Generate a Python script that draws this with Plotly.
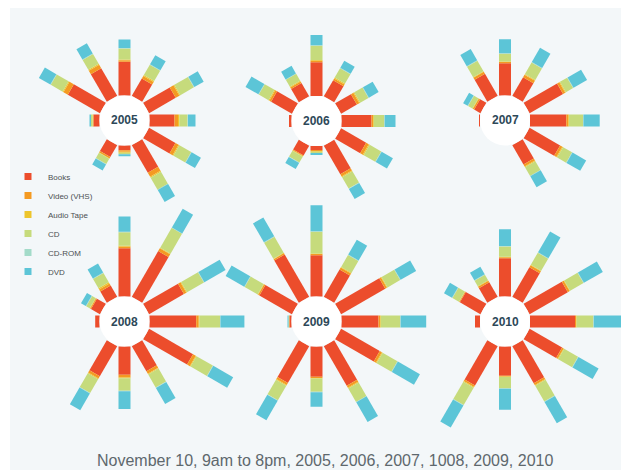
import plotly.graph_objects as go

YEARS = ["2005", "2006", "2007", "2008", "2009", "2010"]
HOURS = ["9am", "10am", "11am", "12pm", "1pm", "2pm", "3pm", "4pm", "5pm", "6pm", "7pm", "8pm"]
CATEGORIES = ["Books", "Video (VHS)", "Audio Tape", "CD", "CD-ROM", "DVD"]
COLORS = ["#EC4D2C", "#F49A22", "#EDC52C", "#C6DB7C", "#A3DBC9", "#5CC5D7"]

# values per year (rows) and hour 9am..8pm (columns)
books = [
    [6, 37, 32, 33.7, 20, 30.7, 25, 30.4, 32, 4.7, 13.8, 0],
    [2.5, 24, 15.4, 33.7, 18.7, 18.2, 30, 28.9, 33, 4, 11.3, 0],
    [1, 7.2, 25.4, 32.3, 21.5, 38.6, 36.3, 35.2, 22.3, 0, 0, 0],
    [4.3, 10.3, 13, 48.3, 52.8, 40.2, 46.7, 50.7, 29.1, 28.3, 34.7, 0],
    [2, 37.5, 49, 41.3, 31.5, 50.9, 37, 44.6, 45.8, 30.3, 42.6, 0],
    [5, 23.7, 16.8, 38.3, 34.2, 44.1, 45, 37.5, 42.8, 29.3, 45.3, 0],
]
video_vhs = [
    [0.5, 5, 4, 1.5, 3, 4.3, 3.5, 3.6, 4.6, 1.6, 1.5, 0],
    [0, 2, 1.8, 1.5, 2, 2.8, 1.5, 3, 2.5, 1, 1, 0],
    [0, 1.5, 2.5, 1.2, 3, 2.5, 2, 2.6, 2.3, 0, 0, 0],
    [0, 1, 2.5, 1.7, 3.2, 2.8, 2.5, 3.2, 2.9, 2.6, 2.6, 0],
    [0.5, 1.5, 1.5, 1.2, 2.3, 2, 1.6, 2.5, 2.3, 1.3, 2.3, 0],
    [0, 0.8, 1.9, 1, 2.3, 2.2, 1.2, 1.8, 2.2, 0.8, 2, 0],
]
audio_tape = [
    [0.5, 1, 1, 0.8, 1, 1, 1.5, 1, 1, 1, 0.5, 0],
    [0, 1, 0.8, 0.8, 1, 1, 0.8, 1.1, 1, 0.7, 0.5, 0],
    [0, 0.5, 0.5, 0.5, 0.8, 0.8, 0.7, 0.9, 0.8, 0, 0, 0],
    [0, 0.5, 1.3, 0.7, 0.8, 0.8, 0.8, 0.8, 0.8, 0.8, 0.8, 0],
    [0, 0.5, 0.5, 0.5, 0.8, 0.7, 0.7, 0.8, 0.8, 0.4, 0.8, 0],
    [0, 0.3, 0.5, 0.4, 0.5, 0.5, 0.5, 0.6, 0.8, 0.4, 0.7, 0],
]
cd = [
    [1.5, 13.7, 11.4, 11, 12, 15.7, 8, 13.6, 13.8, 1.4, 6, 0],
    [0, 11.2, 8, 14.3, 10.8, 9.6, 10.4, 13.3, 13.1, 1.3, 6.8, 0],
    [0, 5, 12.2, 7.7, 13.2, 8.3, 14, 10.3, 10.1, 0, 0, 0],
    [0, 4, 10.7, 13.6, 22.9, 19.5, 20.5, 18.9, 14.9, 12.5, 16, 0],
    [0.5, 15, 18.4, 21.7, 13.8, 14.6, 19.4, 17.1, 15.5, 13.3, 16.9, 0],
    [0, 7.5, 6.3, 10.3, 14, 15.4, 16.6, 16, 18.1, 11.2, 20, 0],
]
cd_rom = [
    [0, 0.5, 0.5, 0.5, 0.5, 0.5, 0.5, 0.5, 0.5, 0, 0.5, 0],
    [0, 0.5, 0.5, 0.5, 0.5, 0.5, 0.5, 0.5, 0.5, 0, 0.5, 0],
    [0, 0.5, 0.5, 0.5, 0.5, 0.5, 0.5, 0.5, 0.5, 0, 0, 0],
    [0, 0.5, 0.5, 0.5, 0.5, 0.5, 0.5, 0.5, 0.5, 0.5, 0.5, 0],
    [0, 0.5, 0.5, 0.5, 0.5, 0.5, 0.5, 0.5, 0.5, 0.5, 0.5, 0],
    [0, 0.5, 0.5, 0.5, 0.5, 0.5, 0.5, 0.5, 0.5, 0.5, 0.5, 0],
]
dvd = [
    [1.5, 13.2, 11.8, 8.5, 10.5, 10.8, 7.5, 10.7, 13.8, 2, 6.9, 0],
    [0, 14.8, 8.8, 10.2, 8, 11.2, 10.8, 13, 11.6, 2, 6.9, 0],
    [0, 5.2, 12.9, 14.1, 16.5, 15.6, 16.2, 15.8, 12.5, 0, 0, 0],
    [0, 5.5, 10.4, 15.2, 21.6, 24.5, 23.9, 22.9, 18.5, 17.8, 19.3, 0],
    [1, 21.5, 21.8, 26.1, 17.1, 17.9, 25.5, 25.5, 22.7, 14.5, 22.5, 0],
    [0, 9.2, 8.7, 16.8, 24.1, 21.8, 31.2, 23.2, 24.6, 21.1, 25.5, 0],
]
SERIES = [books, video_vhs, audio_tape, cd, cd_rom, dvd]

CAPTION = "November 10, 9am to 8pm, 2005, 2006, 2007, 1008, 2009, 2010"

# page body has an 8px margin: figure coords = page coords - 8
OFF = 8
W, H = 629 - OFF, 470 - OFF
CENTERS = [(124.5, 120.5), (316.5, 121), (505, 120.5),
           (124.5, 321.5), (316.5, 321.5), (505, 321.5)]  # page px
HOLE_PX = 25    # inner hole radius in px
R_CAP = 140
FONT = "Liberation Sans, Arial, sans-serif"

# each wheel is drawn as two half-wheel polar subplots so long spokes are not clipped
RIGHT_SECTOR = [-106, 106]
RIGHT_XMIN = -0.27564   # cos(254 deg): left extent of the right sector bbox
LEFT_SECTOR = [90, 270]
PIECES = [
    ("right", RIGHT_SECTOR, ["12pm", "1pm", "2pm", "3pm", "4pm", "5pm", "6pm"]),
    ("left", LEFT_SECTOR, ["7pm", "8pm", "9am", "10am", "11am"]),
]


def px(x, y):
    """figure px -> paper fraction"""
    return x / W, 1 - y / H


fig = go.Figure()
layout = dict(
    width=W, height=H, margin=dict(l=0, r=0, t=0, b=0),
    paper_bgcolor="#FFFFFF",
    showlegend=True,
    shapes=[dict(type="rect", xref="paper", yref="paper", x0=2 / W, x1=1.02,
                 y0=-0.02, y1=1, fillcolor="#F3F7F9", line=dict(width=0), layer="below")],
    annotations=[],
)

n = 0
for k, year in enumerate(YEARS):
    cx, cy = CENTERS[k][0] - OFF, CENTERS[k][1] - OFF
    for side, sector, hours in PIECES:
        n += 1
        pid = "polar" if n == 1 else f"polar{n}"
        if side == "right":
            R = min(W - cx, cy, H - cy, cx / -RIGHT_XMIN, R_CAP) - 0.5
            xd = [cx + RIGHT_XMIN * R, cx + R]
        else:
            R = min(cx, cy, H - cy, R_CAP) - 0.5
            xd = [cx - R, cx]
        layout[pid] = dict(
            domain=dict(x=[xd[0] / W, xd[1] / W], y=[1 - (cy + R) / H, 1 - (cy - R) / H]),
            sector=sector,
            hole=HOLE_PX / R,
            bgcolor="rgba(0,0,0,0)",
            radialaxis=dict(visible=False, range=[0, R - HOLE_PX]),
            angularaxis=dict(visible=False, type="category", categoryorder="array",
                             categoryarray=HOURS, direction="clockwise", rotation=180),
        )
        base = {h: 0.0 for h in hours}
        for name, color, series in zip(CATEGORIES, COLORS, SERIES):
            r, th = [], []
            for h in hours:
                v = series[k][HOURS.index(h)]
                r += [base[h], base[h] + v, None]
                th += [h, h, None]
                base[h] += v
            fig.add_trace(go.Scatterpolar(
                r=r, theta=th, mode="lines", subplot=pid,
                line=dict(color=color, width=12), connectgaps=False,
                showlegend=False, hoverinfo="skip"))

    hx0, hy1 = px(cx - HOLE_PX, cy - HOLE_PX)
    hx1, hy0 = px(cx + HOLE_PX, cy + HOLE_PX)
    layout["shapes"].append(dict(
        type="circle", xref="paper", yref="paper", x0=hx0, x1=hx1, y0=hy0, y1=hy1,
        fillcolor="#FFFFFF", line=dict(width=0), layer="below"))
    ax, ay = px(cx, cy)
    layout["annotations"].append(dict(
        x=ax, y=ay, xref="paper", yref="paper", xanchor="center", yanchor="middle",
        text=f"<b>{year}</b>", showarrow=False,
        font=dict(family=FONT, size=12, color="#2D4858")))

# legend entries
for name, color in zip(CATEGORIES, COLORS):
    fig.add_trace(go.Scatterpolar(
        r=[None], theta=[HOURS[0]], mode="markers", subplot="polar", name=name,
        marker=dict(symbol="square", size=7, color=color), showlegend=True))

lx, ly = px(0, 162 - OFF)
layout["legend"] = dict(x=lx, y=ly, xanchor="left", yanchor="top",
                        bgcolor="rgba(0,0,0,0)",
                        font=dict(family=FONT, size=8, color="#4B4F52"), tracegroupgap=0)

cx_, cy_ = px(325 - OFF, 460 - OFF)
layout["annotations"].append(dict(
    x=cx_, y=cy_, xref="paper", yref="paper", xanchor="center", yanchor="middle",
    text=CAPTION, showarrow=False, font=dict(family=FONT, size=16, color="#5E686D")))

fig.update_layout(**layout)
fig.write_html("out.html")
